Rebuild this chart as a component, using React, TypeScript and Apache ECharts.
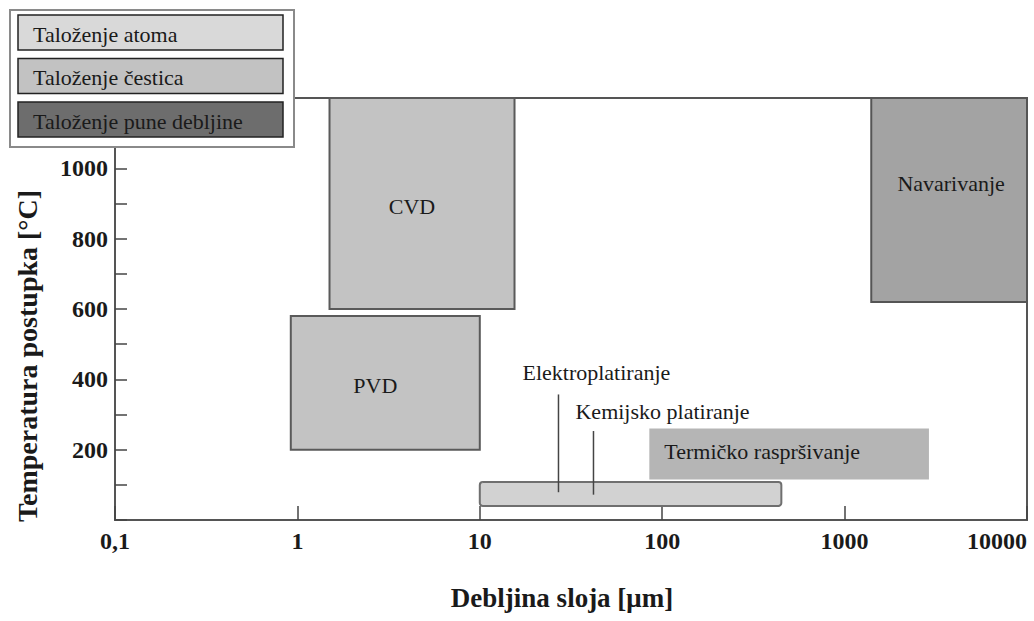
import React, { useEffect, useRef } from "react";
import * as echarts from "echarts";

// ---- data ----
const processNames = ["CVD", "PVD", "Navarivanje", "Termičko raspršivanje", ""];
const thicknessFrom = [1.5, 0.92, 1400, 85, 10];
const thicknessTo = [15.5, 10, 10000, 2900, 450];
const temperatureFrom = [600, 200, 620, 115, 40];
const temperatureTo = [1200, 580, 1200, 260, 108];

const leaderNames = ["Elektroplatiranje", "Kemijsko platiranje"];
const leaderThickness = [27, 42];
const leaderTempTop = [357, 253];
const leaderTempBottom = [79, 72];

const legendLabels = ["Taloženje atoma", "Taloženje čestica", "Taloženje pune debljine"];

const xTickValues = [0.1, 1, 10, 100, 1000, 10000];
const yMin = 0;
const yMax = 1200;
const yTickStep = 100;
const yLabelStep = 200;

// ---- styles ----
const SERIF = "'Liberation Serif', 'Times New Roman', serif";
const TEXT = "#1a1a1a";
const rectFill = ["#c3c3c3", "#c3c3c3", "#a3a3a3", "#b5b5b5", "#d2d2d2"];
const rectStroke = ["#5a5a5a", "#5a5a5a", "#555555", null, "#6f6f6f"];
const rectRadius = [0, 0, 0, 0, 3];
// label placement: [align, dx, dy]
const labelPlace: [string, number, number][] = [
  ["center", -10, 3],
  ["center", -10, 3],
  ["center", 2, -16],
  ["left", 15, -3],
  ["center", 0, 0],
];
// leader label offset from the top of the line: [dx, dy]
const leaderLabelOffset = [
  [-36, -22],
  [-18, -20],
];
const legendFill = ["#d9d9d9", "#c2c2c2", "#6d6d6d"];

export default function App() {
  const ref = useRef<HTMLDivElement>(null);

  useEffect(() => {
    if (!ref.current) return;
    const chart = echarts.init(ref.current, undefined, { renderer: "svg" });

    const rectData = processNames.map((n, i) => [
      thicknessFrom[i],
      thicknessTo[i],
      temperatureFrom[i],
      temperatureTo[i],
      i,
    ]);
    const leaderData = leaderNames.map((n, i) => [
      leaderThickness[i],
      leaderTempBottom[i],
      leaderTempTop[i],
      i,
    ]);

    const legendGraphics: any[] = [
      {
        type: "rect",
        shape: { x: 10, y: 10, width: 284, height: 137 },
        style: { fill: "#ffffff", stroke: "#8a8a8a", lineWidth: 2 },
        z: 100,
      },
    ];
    legendLabels.forEach((lab, i) => {
      const y = 15 + i * 43.5;
      legendGraphics.push({
        type: "rect",
        shape: { x: 18, y, width: 265, height: 35 },
        style: { fill: legendFill[i], stroke: "#222", lineWidth: 1.5 },
        z: 101,
      });
      legendGraphics.push({
        type: "text",
        x: 33,
        y: y + 19,
        style: {
          text: lab,
          fill: TEXT,
          font: `22px ${SERIF}`,
          align: "left",
          verticalAlign: "middle",
        },
        z: 102,
      });
    });

    const option: any = {
      animation: false,
      backgroundColor: "#ffffff",
      grid: {
        left: 115,
        top: 98,
        width: 912,
        height: 422,
        show: true,
        borderColor: "#555",
        borderWidth: 2,
        backgroundColor: "transparent",
        containLabel: false,
        outerBoundsMode: "none",
      },
      xAxis: {
        type: "log",
        logBase: 10,
        min: xTickValues[0],
        max: xTickValues[xTickValues.length - 1],
        axisLine: { show: true, lineStyle: { color: "#555", width: 2 } },
        axisTick: { show: true, inside: true, length: 14, lineStyle: { color: "#444", width: 1.5 } },
        splitLine: { show: false },
        axisLabel: {
          margin: 9,
          color: TEXT,
          fontFamily: SERIF,
          fontWeight: "bold",
          fontSize: 24,
          hideOverlap: false,
          alignMaxLabel: "right",
          formatter: (v: number) => String(v).replace(".", ","),
        },
      },
      yAxis: {
        type: "value",
        min: yMin,
        max: yMax,
        interval: yTickStep,
        axisLine: { show: true, lineStyle: { color: "#555", width: 2 } },
        axisTick: { show: true, inside: true, length: 12, interval: 0, lineStyle: { color: "#444", width: 1.5 } },
        splitLine: { show: false },
        axisLabel: {
          margin: 7,
          interval: 0,
          color: TEXT,
          fontFamily: SERIF,
          fontWeight: "bold",
          fontSize: 24,
          formatter: (v: number) =>
            v % yLabelStep === 0 && v > yMin && v < yMax ? String(v) : "",
        },
      },
      series: [
        {
          type: "custom",
          data: rectData,
          encode: { x: [0, 1], y: [2, 3] },
          clip: false,
          renderItem: (params: any, api: any) => {
            const i = api.value(4);
            const p0 = api.coord([api.value(0), api.value(3)]);
            const p1 = api.coord([api.value(1), api.value(2)]);
            const x = p0[0];
            const y = p0[1];
            const w = p1[0] - p0[0];
            const h = p1[1] - p0[1];
            const children: any[] = [
              {
                type: "rect",
                shape: { x, y, width: w, height: h, r: rectRadius[i] },
                style: {
                  fill: rectFill[i],
                  stroke: rectStroke[i] || "none",
                  lineWidth: rectStroke[i] ? 2 : 0,
                },
              },
            ];
            const name = processNames[i];
            if (name) {
              const [align, dx, dy] = labelPlace[i];
              children.push({
                type: "text",
                x: (align === "left" ? x : x + w / 2) + dx,
                y: y + h / 2 + dy,
                style: {
                  text: name,
                  fill: TEXT,
                  font: `22px ${SERIF}`,
                  align,
                  verticalAlign: "middle",
                },
              });
            }
            return { type: "group", children };
          },
          z: 2,
        },
        {
          type: "custom",
          data: leaderData,
          encode: { x: 0, y: [1, 2] },
          clip: false,
          renderItem: (params: any, api: any) => {
            const i = api.value(3);
            const top = api.coord([api.value(0), api.value(2)]);
            const bottom = api.coord([api.value(0), api.value(1)]);
            const off = leaderLabelOffset[i];
            return {
              type: "group",
              children: [
                {
                  type: "line",
                  shape: { x1: top[0], y1: top[1], x2: bottom[0], y2: bottom[1] },
                  style: { stroke: "#444", lineWidth: 1.5 },
                },
                {
                  type: "text",
                  x: top[0] + off[0],
                  y: top[1] + off[1],
                  style: {
                    text: leaderNames[i],
                    fill: TEXT,
                    font: `22px ${SERIF}`,
                    align: "left",
                    verticalAlign: "middle",
                  },
                },
              ],
            };
          },
          z: 3,
        },
      ],
      graphic: [
        {
          type: "text",
          x: 27,
          y: 356,
          rotation: Math.PI / 2,
          style: {
            text: "Temperatura postupka [°C]",
            fill: TEXT,
            font: `bold 28px ${SERIF}`,
            align: "center",
            verticalAlign: "middle",
          },
          z: 50,
        },
        {
          type: "text",
          x: 562,
          y: 598,
          style: {
            text: "Debljina sloja [μm]",
            fill: TEXT,
            font: `bold 27px ${SERIF}`,
            align: "center",
            verticalAlign: "middle",
          },
          z: 50,
        },
        ...legendGraphics,
      ],
    };

    chart.setOption(option);
    return () => chart.dispose();
  }, []);

  return (
    <div
      ref={ref}
      style={{ position: "absolute", left: 0, top: 0, width: 1034, height: 621 }}
    />
  );
}
